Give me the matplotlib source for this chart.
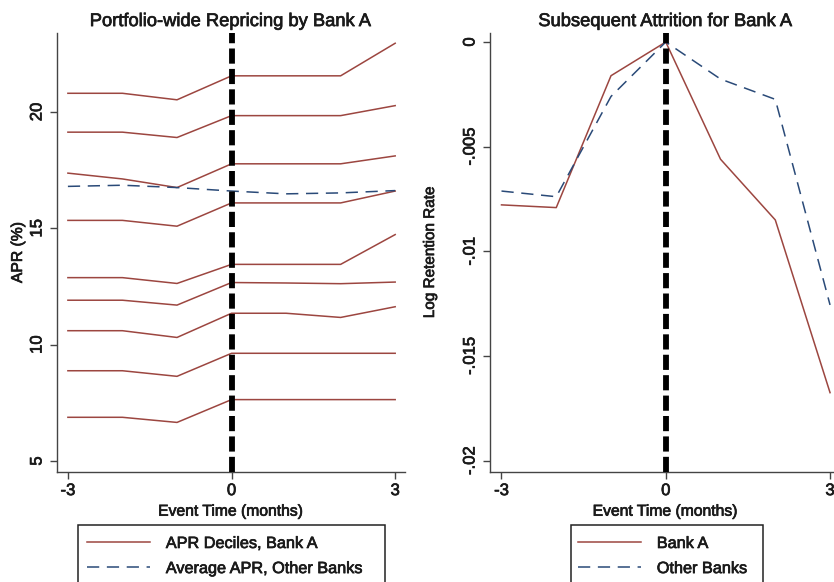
import matplotlib
matplotlib.use("Agg")
import matplotlib.pyplot as plt
import matplotlib.patheffects as pe
from matplotlib.patches import Rectangle

# ---- data -----------------------------------------------------------------
event_time = [-3, -2, -1, 0, 1, 2, 3]

# APR by decile for Bank A (top decile first)
apr_deciles_bank_a = [
    [20.80, 20.80, 20.52, 21.55, 21.55, 21.55, 22.95],
    [19.13, 19.13, 18.90, 19.84, 19.84, 19.84, 20.27],
    [17.37, 17.12, 16.75, 17.77, 17.77, 17.77, 18.11],
    [15.34, 15.34, 15.09, 16.09, 16.09, 16.09, 16.60],
    [12.88, 12.88, 12.63, 13.45, 13.45, 13.45, 14.73],
    [11.91, 11.91, 11.70, 12.67, 12.65, 12.62, 12.69],
    [10.60, 10.60, 10.31, 11.35, 11.35, 11.17, 11.63],
    [8.88, 8.88, 8.64, 9.63, 9.63, 9.63, 9.63],
    [6.88, 6.88, 6.66, 7.64, 7.64, 7.64, 7.64],
]
apr_other_banks = [16.80, 16.85, 16.75, 16.60, 16.48, 16.52, 16.62]

retention_bank_a = [-0.00778, -0.00791, -0.00161, 0.0, -0.0056, -0.0085, -0.01675]
retention_other_banks = [-0.00712, -0.00739, -0.0026, 0.0, -0.00177, -0.00274, -0.01256]

x_ticks = [-3, 0, 3]
x_tick_labels = ["-3", "0", "3"]
apr_ticks = [5, 10, 15, 20]
apr_tick_labels = ["5", "10", "15", "20"]
retention_ticks = [0, -0.005, -0.01, -0.015, -0.02]
retention_tick_labels = ["0", "-.005", "-.01", "-.015", "-.02"]

# ---- style ----------------------------------------------------------------
plt.rcParams["font.family"] = ["Liberation Sans", "DejaVu Sans"]
MAROON = "#9C4640"
NAVY = "#2A4A78"
TEXT = "#1a1a1a"
SPINE = "#444444"
HEAVY = [pe.withStroke(linewidth=0.5, foreground=TEXT)]

W, H = 834, 582
fig = plt.figure(figsize=(W / 100, H / 100), dpi=100)
fig.patch.set_facecolor("white")


def px_axes(x0, y0, x1, y1):
    """Axes from pixel box (left, top, right, bottom)."""
    return fig.add_axes([x0 / W, (H - y1) / H, (x1 - x0) / W, (y1 - y0) / H])


def style_axes(ax):
    for side in ("top", "right"):
        ax.spines[side].set_visible(False)
    for side in ("left", "bottom"):
        ax.spines[side].set_color(SPINE)
        ax.spines[side].set_linewidth(1.0)
    ax.tick_params(axis="both", direction="out", length=5, width=1.0,
                   color=SPINE, labelsize=12, labelcolor=TEXT)
    ax.tick_params(axis="x", pad=3)
    ax.tick_params(axis="y", pad=4)
    for lab in ax.get_yticklabels():
        lab.set_rotation(90)
        lab.set_va("center")
        lab.set_ha("right")
    for lab in ax.get_xticklabels() + ax.get_yticklabels():
        lab.set_path_effects(HEAVY)


def event_line(ax):
    ax.axvline(0, color="black", lw=4.2, dashes=(2.6, 0.9), zorder=5)


def legend_box(handles, labels, box, handle_x, top_y):
    x0, y0, x1, y1 = box
    fig.add_artist(Rectangle((x0 / W, (H - y1) / H), (x1 - x0) / W, (y1 - y0) / H,
                             transform=fig.transFigure, fill=False,
                             edgecolor="#222222", lw=1.1))
    leg = fig.legend(handles, labels, loc="upper left",
                     bbox_to_anchor=(handle_x / W, (H - top_y) / H),
                     frameon=False, fontsize=11.7, borderpad=0, borderaxespad=0,
                     handlelength=3.9, handletextpad=0.95, labelspacing=0.62,
                     labelcolor=TEXT)
    for t in leg.get_texts():
        t.set_path_effects(HEAVY)
    return leg


# ---- left panel: APR deciles ---------------------------------------------
ax1 = px_axes(57, 33, 405, 472)
for i, row in enumerate(apr_deciles_bank_a):
    ln, = ax1.plot(event_time, row, color=MAROON, lw=1.1, zorder=3)
    if i == 0:
        h_dec = ln
h_avg, = ax1.plot(event_time, apr_other_banks, color=NAVY, lw=1.1,
                  linestyle=(0, (8, 5)), zorder=4)
event_line(ax1)
ax1.set_xlim(-3.2, 3.18)
ax1.set_ylim(4.53, 23.39)
ax1.set_xticks(x_ticks, x_tick_labels)
ax1.set_yticks(apr_ticks, apr_tick_labels)
style_axes(ax1)
ax1.set_title("Portfolio-wide Repricing by Bank A", fontsize=13.2, color=TEXT,
              pad=5, path_effects=HEAVY)
ax1.set_xlabel("Event Time (months)", fontsize=11.3, color=TEXT, labelpad=4,
               path_effects=HEAVY)
ax1.set_ylabel("APR (%)", fontsize=11.3, color=TEXT, path_effects=HEAVY)
ax1.yaxis.set_label_coords((25 - 57) / 348, 0.5)

legend_box([h_dec, h_avg], ["APR Deciles, Bank A", "Average APR, Other Banks"],
           (78, 525, 385, 600), 87, 536)

# ---- right panel: retention -----------------------------------------------
ax2 = px_axes(490, 33, 841, 472)
h_a, = ax2.plot(event_time, retention_bank_a, color=MAROON, lw=1.1, zorder=3)
h_o, = ax2.plot(event_time, retention_other_banks, color=NAVY, lw=1.1,
                linestyle=(0, (8, 5)), zorder=4)
event_line(ax2)
ax2.set_xlim(-3.21, 3.2)
ax2.set_ylim(-0.02054, 0.00043)
ax2.set_xticks(x_ticks, x_tick_labels)
ax2.set_yticks(retention_ticks, retention_tick_labels)
style_axes(ax2)
ax2.set_title("Subsequent Attrition for Bank A", fontsize=13.2, color=TEXT,
              pad=5, path_effects=HEAVY)
ax2.set_xlabel("Event Time (months)", fontsize=11.3, color=TEXT, labelpad=4,
               path_effects=HEAVY)
ax2.set_ylabel("Log Retention Rate", fontsize=11, color=TEXT, path_effects=HEAVY)
ax2.yaxis.set_label_coords((437 - 490) / 351, 0.5)

legend_box([h_a, h_o], ["Bank A", "Other Banks"],
           (571, 525, 763, 600), 578, 536)

fig.savefig("out.png", dpi=100)
